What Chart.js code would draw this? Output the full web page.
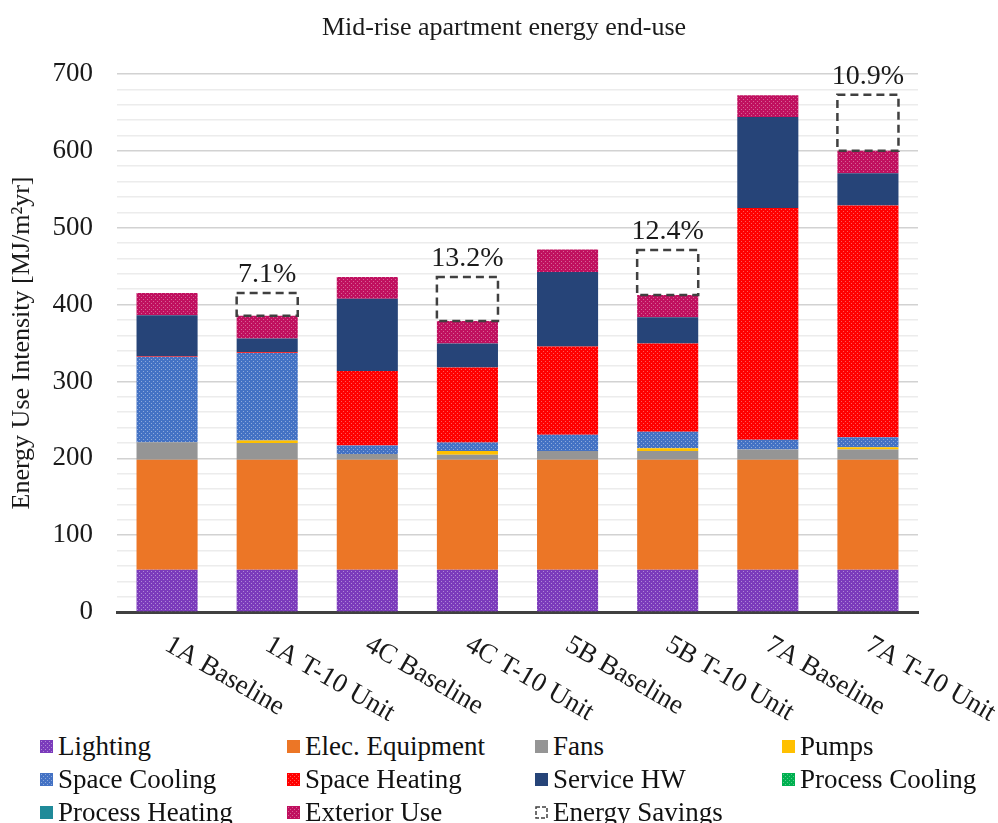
<!DOCTYPE html>
<html>
<head>
<meta charset="utf-8">
<title>Mid-rise apartment energy end-use</title>
<script src="https://cdn.jsdelivr.net/npm/chart.js@4.4.0/dist/chart.umd.min.js"></script>
<style>
  body { margin: 0; background: #fff; font-family: "Liberation Serif", "Times New Roman", serif; }
  #wrap { position: relative; width: 998px; height: 823px; overflow: hidden; }
  #box { position: absolute; left: 0; top: 0; width: 998px; height: 730px; }
  #legend { position: absolute; left: 40px; top: 730px; display: grid;
            grid-template-columns: 247px 248px 247px 216px; font-size: 27px; color: #111; }
  .item { display: flex; align-items: center; height: 33px; white-space: nowrap; }
  .item canvas { margin-right: 5px; }
</style>
</head>
<body>
<div id="wrap">
  <div id="box"><canvas id="c"></canvas></div>
  <div id="legend"></div>
</div>
<script>
var categories = ['1A Baseline', '1A T-10 Unit', '4C Baseline', '4C T-10 Unit',
                  '5B Baseline', '5B T-10 Unit', '7A Baseline', '7A T-10 Unit'];
var lighting       = [55, 55, 55, 55, 55, 55, 55, 55];
var elecEquipment  = [143, 143, 143, 143, 143, 143, 143, 143];
var fans           = [23, 22, 7.5, 6.5, 11.5, 11.5, 13.5, 13.5];
var pumps          = [0, 3, 0, 5, 0, 3.5, 0, 3];
var spaceCooling   = [111, 114, 11, 11, 21, 21.5, 12.5, 13];
var spaceHeating   = [1, 1, 97, 97.5, 115, 115, 301.5, 301.5];
var serviceHW      = [53, 18, 94, 31.5, 97, 34, 118.5, 42];
var processCooling = [0, 0, 0, 0, 0, 0, 0, 0];
var processHeating = [0, 0, 0, 0, 0, 0, 0, 0];
var exteriorUse    = [29, 29.5, 28.5, 29, 29, 29, 28.5, 29];
var energySavings  = [0, 29.5, 0, 57.5, 0, 58.5, 0, 73];
var savingsLabels  = ['', '7.1%', '', '13.2%', '', '12.4%', '', '10.9%'];

var serif = '"Liberation Serif", "Times New Roman", serif';
var ctxMain = document.getElementById('c').getContext('2d');

// small dotted texture like the office fill
function dots(base, dot) {
  var t = document.createElement('canvas');
  t.width = 4; t.height = 4;
  var g = t.getContext('2d');
  g.fillStyle = base; g.fillRect(0, 0, 4, 4);
  g.fillStyle = dot; g.fillRect(1, 1, 1, 1); g.fillRect(3, 3, 1, 1);
  return ctxMain.createPattern(t, 'repeat');
}

var series = [
  { label: 'Lighting', data: lighting, base: '#7b3bbb', dot: 'rgba(255,255,255,0.4)' },
  { label: 'Elec. Equipment', data: elecEquipment, base: '#ec7626' },
  { label: 'Fans', data: fans, base: '#959595' },
  { label: 'Pumps', data: pumps, base: '#ffc000' },
  { label: 'Space Cooling', data: spaceCooling, base: '#4472c4', dot: 'rgba(255,255,255,0.4)' },
  { label: 'Space Heating', data: spaceHeating, base: '#ff0000', dot: 'rgba(255,255,255,0.35)' },
  { label: 'Service HW', data: serviceHW, base: '#264478' },
  { label: 'Process Cooling', data: processCooling, base: '#00b050', dot: 'rgba(255,255,255,0.35)' },
  { label: 'Process Heating', data: processHeating, base: '#1f8a99' },
  { label: 'Exterior Use', data: exteriorUse, base: '#c0105f', dot: 'rgba(255,255,255,0.35)' }
];

var datasets = series.map(function (s) {
  return {
    label: s.label, data: s.data,
    backgroundColor: s.dot ? dots(s.base, s.dot) : s.base,
    borderWidth: 0, barPercentage: 0.61, categoryPercentage: 1
  };
});
datasets.push({
  label: 'Energy Savings', data: energySavings,
  backgroundColor: 'rgba(0,0,0,0)', borderWidth: 0, barPercentage: 0.61, categoryPercentage: 1
});

var overlay = {
  id: 'overlay',
  afterDatasetsDraw: function (chart) {
    var ctx = chart.ctx;
    var meta = chart.getDatasetMeta(chart.data.datasets.length - 1);
    ctx.save();
    meta.data.forEach(function (bar, i) {
      if (!energySavings[i]) return;
      var p = bar.getProps(['x', 'y', 'base', 'width'], true);
      ctx.strokeStyle = '#404040';
      ctx.lineWidth = 2.5;
      ctx.setLineDash([8, 5]);
      ctx.strokeRect(p.x - p.width / 2, p.y, p.width, p.base - p.y);
      ctx.setLineDash([]);
      ctx.fillStyle = '#1a1a1a';
      ctx.font = '28px ' + serif;
      ctx.textAlign = 'center';
      ctx.textBaseline = 'alphabetic';
      ctx.fillText(savingsLabels[i], p.x, p.y - 11);
    });
    ctx.restore();
  },
  afterDraw: function (chart) {
    var ctx = chart.ctx;
    var xs = chart.scales.x;
    ctx.save();
    ctx.fillStyle = '#1a1a1a';
    ctx.font = '26px ' + serif;
    ctx.textAlign = 'center';
    ctx.textBaseline = 'middle';
    ctx.fillText('Mid-rise apartment energy end-use', 504, 28);

    ctx.font = '27px ' + serif;
    ctx.textAlign = 'left';
    categories.forEach(function (c, i) {
      var x = xs.getPixelForValue(i);
      ctx.save();
      ctx.translate(x, chart.chartArea.bottom + 31);
      ctx.rotate(30 * Math.PI / 180);
      ctx.fillText(c, 0, 0);
      ctx.restore();
    });
    ctx.restore();
  }
};

new Chart(ctxMain, {
  type: 'bar',
  data: { labels: categories, datasets: datasets },
  options: {
    responsive: true,
    maintainAspectRatio: false,
    animation: false,
    layout: { padding: { top: 74, right: 80, left: 0, bottom: 0 } },
    plugins: { legend: { display: false }, tooltip: { enabled: false } },
    scales: {
      x: {
        stacked: true,
        grid: { display: false },
        ticks: { display: false },
        border: { color: '#404040', width: 3 },
        afterFit: function (s) { s.height = 118; }
      },
      y: {
        stacked: true, min: 0, max: 700,
        border: { display: false },
        grid: {
          drawTicks: false, lineWidth: 1.5,
          color: function (c) { return c.tick && c.tick.value % 100 === 0 ? '#d2d2d2' : '#ececec'; }
        },
        ticks: {
          stepSize: 20, autoSkip: false, padding: 24, color: '#1a1a1a',
          font: { family: serif, size: 27 },
          callback: function (v) { return v % 100 === 0 ? v : ''; }
        },
        title: {
          display: true, text: 'Energy Use Intensity [MJ/m\u00b2yr]', color: '#1a1a1a',
          font: { family: serif, size: 26 }, padding: { top: 7, bottom: 0 }
        },
        afterFit: function (s) { s.width = 117; }
      }
    }
  },
  plugins: [overlay]
});

// legend, four columns as in the original
var legend = document.getElementById('legend');
var legendItems = series.concat([{ label: 'Energy Savings', savings: true }]);
legendItems.forEach(function (s) {
  var item = document.createElement('div');
  item.className = 'item';
  var sw = document.createElement('canvas');
  sw.width = 13; sw.height = 13;
  var g = sw.getContext('2d');
  if (s.savings) {
    g.strokeStyle = '#404040'; g.lineWidth = 1.5; g.setLineDash([4, 2]);
    g.strokeRect(1, 1, 11, 11);
  } else {
    g.fillStyle = s.dot ? dots(s.base, s.dot) : s.base;
    g.fillRect(0, 0, 13, 13);
  }
  item.appendChild(sw);
  var t = document.createElement('span');
  t.textContent = s.label;
  item.appendChild(t);
  legend.appendChild(item);
});
</script>
</body>
</html>
